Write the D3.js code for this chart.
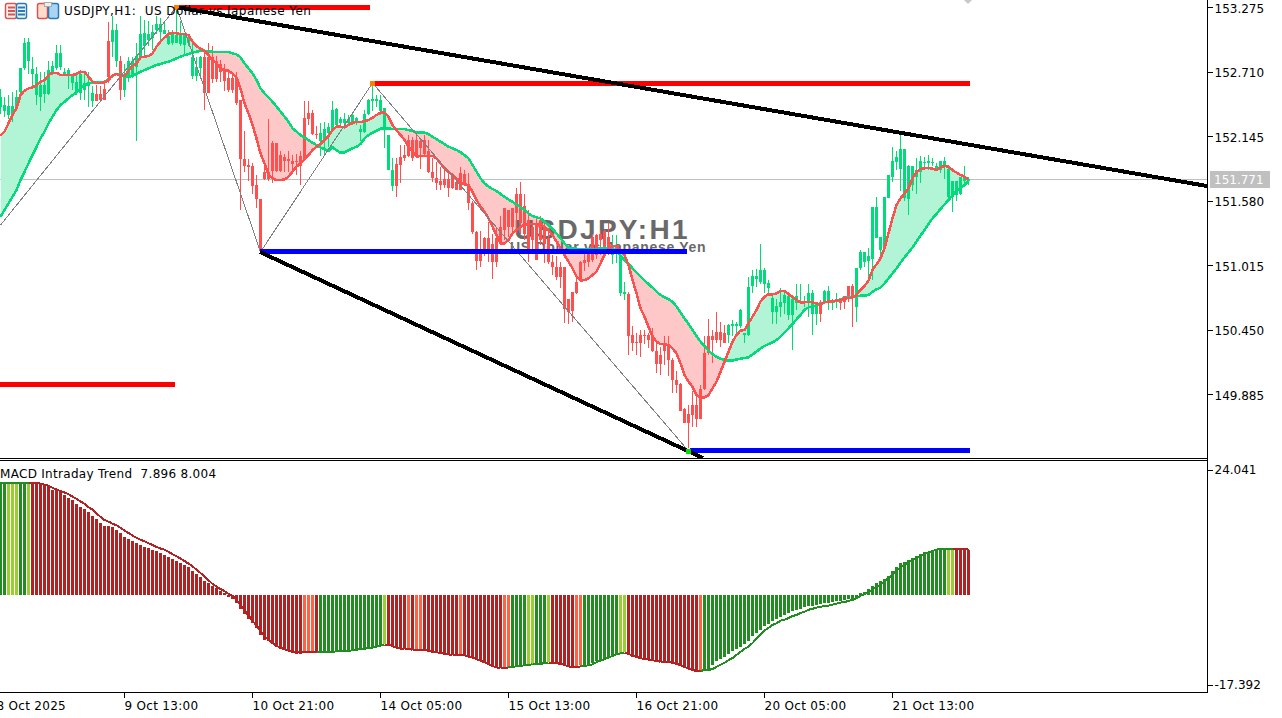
<!DOCTYPE html>
<html>
<head>
<meta charset="utf-8">
<script src="https://cdnjs.cloudflare.com/ajax/libs/d3/7.8.5/d3.min.js"></script>
<style>
html, body { margin: 0; padding: 0; background: #fff; overflow: hidden; }
svg { display: block; }
text { font-family: "DejaVu Sans", sans-serif; font-size: 12px; fill: #000; }
</style>
</head>
<body>
<svg id="chart" width="1282" height="718"></svg>
<script>
// one row per H1 bar: [high, body top, body bottom, low]
const candleRows = [
[152.56,152.49,152.40,152.34],[152.49,152.42,152.36,152.31],[152.50,152.41,152.33,152.29],[152.53,152.41,152.33,152.27],
[152.55,152.49,152.39,152.37],[152.74,152.74,152.53,152.46],[153.00,152.96,152.74,152.72],[153.00,152.97,152.80,152.69],
[152.84,152.73,152.69,152.58],[152.75,152.69,152.50,152.42],[152.71,152.59,152.49,152.36],[152.71,152.59,152.51,152.43],
[152.80,152.72,152.51,152.50],[152.80,152.76,152.71,152.68],[152.94,152.87,152.74,152.72],[152.94,152.87,152.75,152.72],
[152.74,152.71,152.68,152.68],[152.74,152.72,152.68,152.56],[152.69,152.69,152.61,152.55],[152.71,152.62,152.52,152.50],
[152.72,152.69,152.52,152.46],[152.71,152.61,152.55,152.46],[152.71,152.61,152.58,152.40],[152.58,152.52,152.45,152.40],
[152.59,152.51,152.45,152.45],[152.58,152.51,152.46,152.45],[152.62,152.56,152.46,152.46],[153.14,152.98,152.66,152.61],
[153.20,153.07,152.97,152.84],[153.13,153.07,152.80,152.75],[152.85,152.80,152.55,152.46],[152.78,152.67,152.55,152.49],
[152.84,152.80,152.66,152.62],[152.84,152.80,152.66,152.65],[152.96,152.85,152.75,152.10],[153.20,153.04,152.84,152.83],
[153.16,153.05,152.93,152.85],[153.15,153.04,152.99,152.93],[153.12,153.06,153.00,152.90],[153.20,153.13,153.07,153.04],
[153.18,153.13,153.06,152.99],[153.15,153.07,153.04,153.04],[153.07,153.02,152.95,152.94],[153.07,153.04,152.96,152.94],
[153.27,153.03,152.96,152.96],[153.15,153.03,152.95,152.93],[153.04,153.03,152.94,152.85],[153.04,153.01,152.96,152.93],
[152.97,152.84,152.67,152.64],[152.84,152.75,152.67,152.63],[152.85,152.84,152.74,152.65],[152.90,152.84,152.52,152.37],
[152.96,152.84,152.52,152.52],[152.93,152.84,152.64,152.61],[152.85,152.80,152.64,152.62],[152.81,152.78,152.71,152.62],
[152.78,152.72,152.63,152.54],[152.71,152.65,152.55,152.53],[152.71,152.65,152.55,152.52],[152.71,152.66,152.43,152.42],
[152.46,152.46,151.94,151.50],[152.19,151.94,151.88,151.83],[151.94,151.89,151.87,151.75],[151.91,151.88,151.71,151.64],
[151.80,151.72,151.59,151.51],[151.59,151.59,151.15,151.15],[151.89,151.83,151.77,151.76],[152.29,151.83,151.77,151.75],
[152.10,152.08,151.84,151.73],[152.08,152.08,151.84,151.83],[152.01,151.98,151.84,151.83],[151.99,151.96,151.93,151.83],
[152.01,151.94,151.93,151.83],[151.98,151.93,151.90,151.82],[151.99,151.93,151.92,151.80],[152.01,151.97,151.88,151.72],
[152.45,152.30,151.94,151.94],[152.45,152.35,152.29,152.24],[152.37,152.35,152.16,152.15],[152.23,152.16,152.15,152.12],
[152.26,152.17,152.10,151.97],[152.27,152.21,152.10,151.99],[152.26,152.22,152.17,152.05],[152.45,152.37,152.21,152.21],
[152.39,152.38,152.24,152.23],[152.31,152.29,152.26,152.24],[152.35,152.29,152.26,152.22],[152.33,152.29,152.26,152.24],
[152.34,152.33,152.26,152.24],[152.31,152.30,152.26,152.24],[152.24,152.21,152.18,152.10],[152.37,152.34,152.18,152.17],
[152.47,152.46,152.34,152.33],[152.61,152.47,152.45,152.36],[152.50,152.47,152.45,152.40],[152.50,152.46,152.36,152.33],
[152.39,152.39,152.20,152.04],[152.15,152.15,151.85,151.85],[151.95,151.85,151.71,151.66],[151.95,151.90,151.71,151.61],
[152.07,151.96,151.89,151.73],[152.07,151.98,151.95,151.93],[152.15,152.11,151.97,151.96],[152.14,152.11,151.95,151.93],
[152.15,152.11,151.98,151.95],[152.12,152.10,152.04,151.86],[152.15,152.11,151.99,151.98],[152.11,152.01,151.83,151.82],
[151.95,151.83,151.78,151.74],[151.92,151.78,151.73,151.67],[151.87,151.75,151.72,151.67],[151.86,151.77,151.72,151.69],
[151.85,151.77,151.69,151.61],[151.82,151.80,151.69,151.68],[151.77,151.74,151.67,151.67],[151.87,151.82,151.67,151.67],
[151.85,151.81,151.72,151.72],[151.82,151.72,151.56,151.50],[151.58,151.56,151.30,151.29],[151.31,151.30,151.05,150.97],
[151.31,151.12,151.05,151.00],[151.26,151.25,151.15,151.09],[151.39,151.25,151.15,151.04],[151.29,151.20,151.04,150.89],
[151.35,151.25,151.04,151.00],[151.44,151.35,151.20,151.20],[151.51,151.51,151.32,151.23],[151.50,151.50,151.35,151.26],
[151.51,151.51,151.35,151.28],[151.69,151.64,151.47,151.29],[151.74,151.64,151.38,151.29],[151.64,151.53,151.29,151.23],
[151.50,151.41,151.13,151.04],[151.41,151.35,151.23,151.15],[151.44,151.38,151.06,151.06],[151.44,151.41,151.23,151.19],
[151.41,151.35,151.20,151.03],[151.31,151.25,151.04,151.02],[151.10,151.04,151.00,150.93],[151.09,151.00,150.91,150.88],
[151.04,151.00,150.91,150.81],[151.00,151.00,150.63,150.51],[150.72,150.72,150.60,150.50],[150.78,150.78,150.61,150.52],
[150.91,150.87,150.77,150.76],[151.05,151.04,150.88,150.87],[151.15,151.06,151.03,150.96],[151.16,151.12,151.04,151.00],
[151.29,151.26,151.06,151.04],[151.29,151.28,151.10,151.07],[151.32,151.29,151.23,151.10],[151.32,151.31,151.16,151.13],
[151.38,151.26,151.15,151.10],[151.28,151.18,151.10,151.02],[151.28,151.18,151.15,151.03],[151.10,151.10,150.77,150.74],
[150.87,150.78,150.76,150.71],[150.78,150.76,150.39,150.23],[150.48,150.40,150.33,150.26],[150.42,150.34,150.33,150.23],
[150.45,150.40,150.33,150.21],[150.45,150.40,150.39,150.32],[150.42,150.40,150.36,150.29],[150.46,150.40,150.26,150.25],
[150.33,150.26,150.15,150.07],[150.30,150.23,150.15,150.05],[150.39,150.32,150.26,150.14],[150.39,150.32,150.18,150.04],
[150.20,150.18,150.01,149.89],[150.09,150.01,149.96,149.89],[149.98,149.97,149.74,149.74],[149.76,149.75,149.63,149.63],
[149.79,149.71,149.63,149.41],[149.91,149.79,149.70,149.60],[149.86,149.79,149.67,149.60],[149.96,149.93,149.67,149.67],
[150.39,150.24,149.93,149.92],[150.54,150.39,150.24,150.23],[150.45,150.39,150.36,150.16],[150.60,150.43,150.36,150.33],
[150.52,150.43,150.36,150.30],[150.49,150.42,150.33,150.33],[150.50,150.49,150.40,150.33],[150.53,150.50,150.48,150.39],
[150.52,150.50,150.48,150.40],[150.63,150.62,150.48,150.46],[150.42,150.42,150.40,150.33],[150.91,150.82,150.40,150.39],
[150.97,150.92,150.83,150.77],[150.98,150.92,150.89,150.82],[151.20,150.97,150.87,150.85],[150.99,150.97,150.85,150.77],
[150.88,150.86,150.81,150.75],[150.74,150.73,150.60,150.50],[150.72,150.66,150.60,150.50],[150.81,150.69,150.65,150.56],
[150.80,150.75,150.68,150.59],[150.77,150.74,150.58,150.53],[150.75,150.72,150.58,150.27],[150.85,150.74,150.68,150.62],
[150.85,150.69,150.68,150.67],[150.74,150.69,150.68,150.65],[150.85,150.77,150.68,150.56],[150.80,150.77,150.59,150.40],
[150.68,150.66,150.59,150.49],[150.71,150.68,150.59,150.52],[150.80,150.79,150.69,150.68],[150.83,150.79,150.70,150.62],
[150.72,150.71,150.69,150.62],[150.77,150.71,150.69,150.64],[150.73,150.71,150.68,150.62],[150.74,150.74,150.69,150.63],
[150.83,150.83,150.74,150.69],[150.85,150.83,150.74,150.47],[150.99,150.99,150.65,150.52],[151.15,151.13,150.99,150.97],
[151.13,151.13,151.04,151.00],[151.16,151.09,151.05,150.88],[151.52,151.52,151.07,150.88],[151.61,151.52,151.25,151.25],
[151.26,151.26,151.15,151.07],[151.61,151.61,151.16,151.15],[151.80,151.80,151.60,151.60],[152.05,151.93,151.79,151.74],
[152.01,151.96,151.92,151.85],[152.15,152.03,151.86,151.66],[152.03,152.03,151.60,151.58],[151.89,151.88,151.59,151.45],
[151.88,151.88,151.72,151.66],[151.95,151.85,151.79,151.64],[151.97,151.93,151.83,151.73],[151.96,151.92,151.91,151.85],
[151.98,151.93,151.91,151.85],[151.95,151.92,151.91,151.88],[151.91,151.88,151.86,151.85],[151.93,151.93,151.85,151.82],
[151.96,151.93,151.88,151.77],[151.88,151.86,151.61,151.58],[151.75,151.75,151.61,151.48],[151.75,151.75,151.63,151.58],
[151.79,151.79,151.64,151.63],[151.88,151.78,151.75,151.70],[151.79,151.77,151.75,151.72]
];

// red moving average, one value per bar
const fastMa = [
152.148,152.183,152.256,152.329,152.387,152.504,152.542,152.562,152.571,152.591,152.621,152.635,152.679,152.699,152.699,152.679,152.679,152.679,152.679,152.688,
152.708,152.705,152.664,152.621,152.609,152.609,152.615,152.635,152.676,152.688,152.673,152.670,152.717,152.758,152.781,152.834,152.840,152.845,152.869,152.927,
152.971,153.006,153.038,153.050,153.044,153.038,153.038,153.029,152.971,152.933,152.910,152.889,152.854,152.810,152.781,152.737,152.723,152.717,152.694,152.659,
152.562,152.431,152.343,152.241,152.124,151.993,151.905,151.803,151.774,151.759,151.759,151.765,151.788,151.832,151.876,151.905,151.940,151.978,152.022,152.051,
152.075,152.110,152.145,
152.197,152.227,152.227,152.221,152.241,152.262,152.267,152.267,152.276,152.285,152.305,152.329,152.349,152.349,152.314,152.241,152.197,152.154,152.110,152.051,
152.008,151.964,151.970,151.970,151.970,151.970,151.949,151.905,151.862,151.832,151.803,151.774,151.745,151.721,151.716,151.657,151.584,151.526,151.482,151.424,
151.351,151.278,151.205,151.205,151.234,151.292,151.321,151.351,151.365,151.371,151.374,151.371,151.365,151.351,151.321,151.278,151.219,151.161,151.102,151.044,
150.986,150.913,150.878,150.883,150.898,150.927,150.956,151.029,151.102,151.155,151.181,151.184,
151.132,151.102,151.015,150.883,150.767,150.635,150.562,150.475,150.387,150.343,150.323,150.320,150.314,150.285,150.241,150.153,150.051,149.993,149.949,149.876,
149.853,149.853,149.876,149.934,149.993,150.080,150.168,150.256,150.343,150.402,150.440,150.445,150.504,150.562,150.621,150.694,150.737,150.758,150.758,150.767,
150.787,150.787,150.761,150.737,150.708,150.688,150.688,150.691,150.688,150.679,150.670,150.688,150.697,150.697,150.705,150.708,150.720,150.726,150.729,150.752,
150.796,150.831,150.878,150.971,151.021,151.073,151.161,151.292,151.424,151.540,151.599,151.643,151.686,151.774,151.832,151.856,151.862,151.865,151.859,151.847,
151.870,151.882,151.876,151.847,151.824,151.803,151.789,151.765
];

// green moving average, one value per bar
const slowMa = [
151.438,151.496,151.555,151.613,151.672,151.759,151.832,151.905,151.978,152.051,152.124,152.183,152.256,152.314,152.372,152.416,152.445,152.475,152.504,152.524,
152.562,152.591,152.606,152.612,152.612,152.612,152.621,152.641,152.670,152.688,152.688,152.670,152.659,152.679,152.688,152.708,152.723,152.737,152.752,152.767,
152.775,152.787,152.796,152.810,152.825,152.840,152.854,152.863,152.875,152.883,152.892,152.892,152.889,152.883,152.883,152.883,152.883,152.880,152.869,152.860,
152.834,152.781,152.737,152.694,152.635,152.562,152.518,152.483,152.445,152.402,152.358,152.314,152.270,152.212,152.183,152.153,152.133,152.110,152.086,152.066,
152.045,152.028,152.016,
152.046,152.022,151.999,151.999,152.022,152.037,152.051,152.075,152.124,152.154,152.174,152.192,152.209,152.212,152.212,152.206,152.206,152.206,152.206,152.197,
152.189,152.177,152.174,152.174,152.162,152.139,152.116,152.095,152.075,152.051,152.037,152.022,152.002,151.978,151.949,151.891,151.832,151.774,151.730,151.701,
151.681,151.663,151.637,151.613,151.590,151.567,151.546,151.520,151.497,151.467,151.444,151.432,151.424,151.394,151.365,151.330,151.292,151.248,151.205,151.170,
151.158,151.158,151.155,151.155,151.155,151.155,151.155,151.161,151.167,151.161,151.146,151.146,
151.094,151.059,151.024,150.986,150.948,150.913,150.878,150.848,150.816,150.781,150.752,150.732,150.714,150.694,150.650,150.597,150.548,150.498,150.445,150.393,
150.343,150.305,150.264,150.235,150.212,150.194,150.183,150.177,150.177,150.188,150.194,150.200,150.206,150.232,150.256,150.285,150.305,150.323,150.337,150.358,
150.387,150.425,150.460,150.498,150.539,150.577,150.621,150.644,150.650,150.664,150.679,150.688,150.691,150.694,150.699,150.714,150.726,150.732,150.737,150.743,
150.746,150.746,150.752,150.781,150.802,150.816,150.854,150.898,150.942,150.986,151.035,151.082,151.126,151.170,151.219,151.272,151.321,151.374,151.424,151.462,
151.505,151.546,151.584,151.625,151.663,151.686,151.716,151.751
];

const macdHist = [
21.8,21.8,21.8,21.8,21.8,21.8,21.8,21.8,21.8,21.4,21.4,21.1,20.7,20.2,20.1,19.8,19.3,18.7,18.2,17.5,17.0,16.6,15.9,15.2,14.6,13.9,13.3,13.2,13.0,12.5,
11.9,11.1,10.7,10.3,10.0,9.5,9.2,9.0,8.7,8.5,8.0,7.7,7.3,6.9,6.5,6.1,5.8,5.3,4.6,4.0,3.4,2.6,2.2,1.7,1.3,0.8,0.3,-0.5,-0.8,-1.6,
-2.7,-3.7,-4.6,-5.5,-6.4,-7.8,-8.7,-9.0,-9.5,-10.0,-10.5,-10.6,-10.9,-11.2,-11.4,-11.4,-11.0,-11.0,-11.0,-11.0,-11.0,-11.0,-11.0,
-10.9,-10.9,-10.9,-10.9,-10.8,-10.7,-10.6,-10.5,-10.4,-10.3,-10.2,-10.0,-9.8,-9.5,-9.6,-10.0,-10.2,-10.4,-10.5,-10.5,-10.5,-10.7,-10.6,-10.6,-10.7,-11.0,-11.1,
-11.2,-11.4,-11.6,-11.6,-11.6,-11.6,-11.7,-11.9,-12.1,-12.5,-12.8,-13.0,-13.5,-13.8,-14.1,-14.2,-14.1,-14.1,-13.9,-13.8,-13.7,-13.6,-13.5,-13.4,-13.4,-13.3,-13.1,-13.0,
-13.0,-13.2,-13.3,-13.6,-13.8,-14.1,-13.9,-13.6,-13.7,-13.5,-13.2,-12.8,-12.5,-12.3,-12.0,-11.7,-11.4,-11.2,-11.1,-11.6,-11.9,-12.1,-12.2,-12.4,-12.5,-12.6,-12.8,
-12.8,-12.8,-13.0,-13.0,-13.4,-13.7,-13.9,-14.3,-14.6,-14.9,-14.6,-14.5,-14.3,-13.5,-12.8,-12.4,-11.9,-11.4,-10.9,-10.4,-10.0,-9.5,-8.9,-8.0,-7.4,-6.7,-6.1,-5.6,-5.1,-4.7,
-4.2,-3.9,-3.5,-3.2,-2.9,-2.7,-2.4,-2.2,-2.1,-1.9,-1.7,-1.6,-1.5,-1.4,-1.3,-1.2,-1.0,-0.9,-0.8,-0.6,
0.4,0.6,1.1,1.6,2.2,2.6,3.1,3.7,4.5,5.3,6.1,6.3,6.7,7.1,7.4,7.8,8.3,8.3,8.6,8.8,9.0,9.0,8.9,8.9,8.9,8.9,8.9,8.7
];

const macdSignal = [
21.6,21.6,21.6,21.6,21.6,21.6,21.6,21.6,21.6,21.6,21.4,21.2,21.0,20.6,20.3,20.0,19.7,19.4,18.9,18.5,18.0,17.5,16.9,16.4,15.7,15.0,14.4,14.1,13.7,13.4,
12.9,12.4,11.9,11.4,11.0,10.6,10.3,9.9,9.6,9.2,8.9,8.7,8.3,7.8,7.4,7.0,6.5,6.0,5.5,4.8,4.2,3.5,2.8,2.1,1.6,1.1,0.7,0.2,-0.2,-1.0,
-2.0,-3.0,-4.0,-5.0,-5.9,-7.0,-8.0,-8.7,-9.3,-9.8,-10.2,-10.5,-10.8,-11.0,-11.1,-11.1,-11.1,-11.1,-11.1,-11.1,-11.1,-11.1,-11.1,
-11.0,-10.9,-10.9,-10.9,-10.8,-10.7,-10.6,-10.5,-10.4,-10.3,-10.2,-10.0,-9.8,-9.6,-9.6,-9.9,-10.2,-10.4,-10.5,-10.5,-10.6,-10.6,-10.6,-10.6,-10.8,-11.0,-11.1,-11.2,
-11.4,-11.5,-11.6,-11.6,-11.6,-11.7,-11.9,-12.1,-12.4,-12.7,-13.0,-13.4,-13.7,-14.0,-14.1,-14.1,-14.0,-13.9,-13.8,-13.7,-13.6,-13.5,-13.4,-13.4,-13.3,-13.2,-13.1,-13.1,
-13.2,-13.3,-13.5,-13.8,-14.0,-14.0,-13.8,-13.7,-13.6,-13.4,-13.0,-12.7,-12.4,-12.1,-11.8,-11.5,-11.3,-11.2,-11.4,-11.7,-12.0,-12.2,-12.4,-12.5,-12.6,-12.8,
-12.9,-12.9,-13.0,-13.1,-13.3,-13.6,-13.9,-14.2,-14.5,-14.7,-14.7,
-14.5,-14.5,-14.3,-13.9,-13.5,-13.1,-12.6,-12.2,-11.6,-11.0,-10.4,-10.0,-9.3,-8.5,-7.7,-6.9,-6.4,-5.8,-5.5,-5.0,-4.8,-4.5,-4.1,-3.9,-3.5,-3.3,-2.9,-2.7,-2.5,-2.3,
-2.2,-2.1,-1.9,-1.7,-1.5,-1.4,-1.2,-1.0,-0.7,-0.2,0.1,0.5,1.0,1.5,1.9,2.6,3.2,3.9,4.6,5.3,5.8,6.3,6.7,7.1,7.5,7.9,8.2,8.4,8.7,8.8,8.9,8.9,8.9,8.9,8.9,8.9,8.7
];

// runs of histogram colour along the bars: [colour name, bar count]
const histRuns = [
['green',2],['lime',3],['green',2],['lime',1],['red',68],['tomato',3],['red',1],['green',16],['lime',1],['red',5],['tomato',1],['red',1],
['tomato',2],['red',9],['tomato',1],['red',10],['tomato',2],['green',4],['lime',2],['green',3],['lime',1],['red',6],['tomato',2],['green',9],
['lime',2],['red',18],['tomato',1],['green',61],['lime',2],['red',4]
];
const histPalette = {green: '#228b22', lime: '#9acd32', red: '#b22222', tomato: '#ff6347'};

const priceTicks = [153.275, 152.710, 152.145, 151.580, 151.015, 150.450, 149.885];
const macdTicks = [24.041, -17.392];
const timeTickBars = [-1, 31, 63, 95, 127, 159, 191, 223];
const timeTickLabels = ['8 Oct 2025', '9 Oct 13:00', '10 Oct 21:00', '14 Oct 05:00', '15 Oct 13:00', '16 Oct 21:00', '20 Oct 05:00', '21 Oct 13:00'];

const lastPrice = 151.771;
// analysis objects, anchored on bar index and price
const zigzagBars = [0, 44, 65, 93, 172];
const zigzagPrices = [151.365, 153.275, 151.129, 152.609, 149.386];
const trendLines = [
    {bars: [44, 301.75], prices: [153.275, 151.707]},
    {bars: [65, 175.75], prices: [151.129, 149.324]}
];
const levelLines = [
    {from: -1, to: 43.75, price: 149.964, color: '#ff0000'},
    {from: 44, to: 92.5, price: 153.275, color: '#ff0000'},
    {from: 93.5, to: 242.5, price: 152.609, color: '#ff0000'},
    {from: 65, to: 171.75, price: 151.129, color: '#0000ff'},
    {from: 172.5, to: 242.5, price: 149.386, color: '#0000ff'}
];

const GREEN = '#00dc78', RED = '#ff5050';
const svg = d3.select('#chart');

const xBar = d3.scaleLinear().domain([0, 100]).range([0, 400]);
const yPrice = d3.scaleLinear().domain([153.275, 149.885]).range([7, 394]);
const yMacd = d3.scaleLinear().domain([24.041, -17.392]).range([470, 685]);

const bars = d3.range(candleRows.length);
const histColors = d3.merge(histRuns.map(function(run){ return d3.range(run[1]).map(function(){ return run[0]; }); }));

const defs = svg.append('defs');
defs.append('clipPath').attr('id', 'pricePane').append('rect')
    .attr('x', 0).attr('y', 0).attr('width', 1207).attr('height', 458);

// regions above and below the slow line, used to split the fill by trend
const slowY = function(i){ return yPrice(slowMa[i]); };
const midX = function(i){ return xBar(i) + 0.5; };
defs.append('clipPath').attr('id', 'aboveSlow').append('path')
    .attr('d', d3.area().x(midX).y0(0).y1(slowY)(bars));
defs.append('clipPath').attr('id', 'belowSlow').append('path')
    .attr('d', d3.area().x(midX).y0(slowY).y1(458)(bars));

const pricePane = svg.append('g').attr('clip-path', 'url(#pricePane)');

pricePane.append('line')
    .attr('x1', 0).attr('x2', 1207)
    .attr('y1', Math.round(yPrice(lastPrice)) + 0.5).attr('y2', Math.round(yPrice(lastPrice)) + 0.5)
    .attr('stroke', '#c0c0c0');

// ribbon between the two averages
const ribbon = d3.area().x(midX).y0(slowY).y1(function(i){ return yPrice(fastMa[i]); });
pricePane.append('path').attr('d', ribbon(bars)).attr('fill', '#b2f5d6').attr('clip-path', 'url(#aboveSlow)');
pricePane.append('path').attr('d', ribbon(bars)).attr('fill', '#ffc8c8').attr('clip-path', 'url(#belowSlow)');

// chart watermark
pricePane.append('text').attr('x', 514).attr('y', 239)
    .style('font-family', '"Liberation Sans", sans-serif').style('font-weight', 'bold')
    .style('font-size', '28px').style('letter-spacing', '2.3px').style('fill', '#696969')
    .text('USDJPY:H1');
pricePane.append('text').attr('x', 510).attr('y', 252)
    .style('font-family', '"Liberation Sans", sans-serif').style('font-weight', 'bold')
    .style('font-size', '14px').style('letter-spacing', '0.7px').style('fill', '#696969')
    .text('US Dollar vs Japanese Yen');

// candles take their colour from the ribbon, not from open and close
const candleColor = function(i){ return fastMa[i] >= slowMa[i] ? GREEN : RED; };
const candles = pricePane.append('g').attr('shape-rendering', 'crispEdges');
candles.selectAll('rect.wick').data(bars).enter().append('rect')
    .attr('class', 'wick')
    .attr('x', function(i){ return xBar(i); })
    .attr('width', 1)
    .attr('y', function(i){ return yPrice(candleRows[i][0]); })
    .attr('height', function(i){ return Math.max(1, yPrice(candleRows[i][3]) - yPrice(candleRows[i][0])); })
    .attr('fill', candleColor);
candles.selectAll('rect.body').data(bars).enter().append('rect')
    .attr('class', 'body')
    .attr('x', function(i){ return xBar(i) - 1; })
    .attr('width', 3)
    .attr('y', function(i){ return yPrice(candleRows[i][1]); })
    .attr('height', function(i){ return Math.max(1, yPrice(candleRows[i][2]) - yPrice(candleRows[i][1])); })
    .attr('fill', candleColor);

const maLine = function(values){
    return d3.line().x(midX).y(function(i){ return yPrice(values[i]); })(bars);
};
pricePane.append('path').attr('d', maLine(slowMa)).attr('fill', 'none').attr('stroke', GREEN)
    .attr('stroke-width', 2.5).attr('shape-rendering', 'crispEdges');
pricePane.append('path').attr('d', maLine(fastMa)).attr('fill', 'none').attr('stroke', RED)
    .attr('stroke-width', 2.5).attr('shape-rendering', 'crispEdges');

// chart title, the objects below run over it
svg.append('text').attr('x', 64).attr('y', 15)
    .style('letter-spacing', '0.43px').style('white-space', 'pre')
    .text('USDJPY,H1:  US Dollar vs Japanese Yen');

const zigzag = d3.line()
    .x(function(d){ return xBar(d) + 0.5; })
    .y(function(d, i){ return yPrice(zigzagPrices[i]); });
pricePane.append('path').attr('d', zigzag(zigzagBars))
    .attr('fill', 'none').attr('stroke', '#808080').attr('stroke-width', 1)
    .attr('shape-rendering', 'crispEdges');

pricePane.selectAll('line.level').data(levelLines).enter().append('line')
    .attr('class', 'level')
    .attr('x1', function(d){ return xBar(d.from); })
    .attr('x2', function(d){ return xBar(d.to); })
    .attr('y1', function(d){ return yPrice(d.price); })
    .attr('y2', function(d){ return yPrice(d.price); })
    .attr('stroke', function(d){ return d.color; })
    .attr('stroke-width', 5)
    .attr('shape-rendering', 'crispEdges');

pricePane.selectAll('line.trend').data(trendLines).enter().append('line')
    .attr('class', 'trend')
    .attr('x1', function(d){ return xBar(d.bars[0]); })
    .attr('x2', function(d){ return xBar(d.bars[1]); })
    .attr('y1', function(d){ return yPrice(d.prices[0]); })
    .attr('y2', function(d){ return yPrice(d.prices[1]); })
    .attr('stroke', '#000')
    .attr('stroke-width', 4)
    .attr('shape-rendering', 'crispEdges');

// pivot markers at the zigzag ends
pricePane.selectAll('rect.pivot').data([1, 3, 4]).enter().append('rect')
    .attr('class', 'pivot')
    .attr('x', function(k){ return xBar(zigzagBars[k]) - 2; })
    .attr('y', function(k){ return yPrice(zigzagPrices[k]) - 2; })
    .attr('width', 5).attr('height', 5)
    .attr('fill', function(k){ return k === 4 ? '#00e000' : '#ff8000'; });

// small price marker at the top edge
svg.append('path').attr('d', d3.line()([[964, 0], [972, 0], [968, 4]]) + 'Z').attr('fill', '#c8c8c8');

// MACD pane
const histZero = yMacd(0);
svg.append('g').attr('shape-rendering', 'crispEdges')
    .selectAll('rect').data(bars).enter().append('rect')
    .attr('x', function(i){ return xBar(i) - 1; })
    .attr('width', 3)
    .attr('y', function(i){ return Math.min(yMacd(macdHist[i]), histZero); })
    .attr('height', function(i){ return Math.abs(yMacd(macdHist[i]) - histZero); })
    .attr('fill', function(i){ return histPalette[histColors[i]]; });

svg.append('g').selectAll('path').data(d3.pairs(bars)).enter().append('path')
    .attr('d', function(p){
        return d3.line().x(midX).y(function(i){ return yMacd(macdSignal[i]); })(p);
    })
    .attr('fill', 'none')
    .attr('stroke-width', 2)
    .attr('shape-rendering', 'crispEdges')
    .attr('stroke', function(p){
        let c = histColors[p[1]];
        return (c === 'red' || c === 'tomato') ? histPalette.red : histPalette.green;
    });

svg.append('text').attr('x', 0).attr('y', 478)
    .style('letter-spacing', '0.3px').style('white-space', 'pre')
    .text('MACD Intraday Trend  7.896 8.004');

// axes and pane frames
const priceAxis = d3.axisRight(yPrice).tickValues(priceTicks).tickSize(5).tickPadding(2)
    .tickFormat(function(d){ return d.toFixed(3); });
const macdAxis = d3.axisRight(yMacd).tickValues(macdTicks).tickSize(5).tickPadding(2)
    .tickFormat(function(d){ return d.toFixed(3); });
const timeAxis = d3.axisBottom(xBar).tickValues(timeTickBars).tickSize(5).tickPadding(4)
    .tickFormat(function(d, i){ return timeTickLabels[i]; });

const setAxes = function(selection){
    selection.attr('shape-rendering', 'crispEdges');
    selection.select('.domain').remove();
    selection.selectAll('text').style('font-size', '12px').attr('fill', '#000');
};
svg.append('g').attr('transform', 'translate(1207.5,0)').call(priceAxis).call(setAxes)
    .selectAll('text').attr('dy', '0.42em');
svg.append('g').attr('transform', 'translate(1207.5,0)').call(macdAxis).call(setAxes)
    .selectAll('text').attr('dy', '0.3em');
svg.append('g').attr('transform', 'translate(0,692.5)').call(timeAxis).call(setAxes)
    .selectAll('text').attr('text-anchor', 'start').style('letter-spacing', '0.3px');

const frame = svg.append('g').attr('stroke', '#000').attr('shape-rendering', 'crispEdges');
frame.append('line').attr('x1', 1207.5).attr('x2', 1207.5).attr('y1', 0).attr('y2', 692);
frame.append('line').attr('x1', 0).attr('x2', 1208).attr('y1', 458.5).attr('y2', 458.5);
frame.append('line').attr('x1', 0).attr('x2', 1208).attr('y1', 460.5).attr('y2', 460.5);
frame.append('line').attr('x1', 0).attr('x2', 1208).attr('y1', 692.5).attr('y2', 692.5);

// last price tag
svg.append('rect').attr('x', 1210).attr('y', 171).attr('width', 60).attr('height', 17).attr('fill', '#c0c0c0');
svg.append('text').attr('x', 1214).attr('y', 184).style('fill', '#fff').text(lastPrice.toFixed(3));

// toolbar icons next to the title
const icons = svg.append('g');
icons.append('rect').attr('x', 5.5).attr('y', 3.5).attr('width', 11).attr('height', 15).attr('rx', 2).attr('fill', '#fdf2ef').attr('stroke', '#d9534f').attr('stroke-width', 1.5);
icons.append('rect').attr('x', 16.5).attr('y', 3.5).attr('width', 10).attr('height', 15).attr('rx', 2).attr('fill', '#eef6fc').attr('stroke', '#2a7ab8').attr('stroke-width', 1.5);
icons.selectAll('rect.redbar').data([0, 1, 2]).enter().append('rect').attr('class', 'redbar')
    .attr('x', 8).attr('y', function(d){ return 6.5 + d * 3.5; }).attr('width', 7).attr('height', 2).attr('fill', '#d9534f');
icons.selectAll('rect.bluebar').data([0, 1, 2]).enter().append('rect').attr('class', 'bluebar')
    .attr('x', 18).attr('y', function(d){ return 6.5 + d * 3.5; }).attr('width', 7).attr('height', 2).attr('fill', '#2a7ab8');
icons.append('rect').attr('x', 37.5).attr('y', 3.5).attr('width', 10).attr('height', 15).attr('rx', 2).attr('fill', '#fddccc').attr('stroke', '#d9534f').attr('stroke-width', 1.5);
icons.append('rect').attr('x', 48.5).attr('y', 3.5).attr('width', 10).attr('height', 15).attr('rx', 2).attr('fill', '#a9d4f2').attr('stroke', '#2a7ab8').attr('stroke-width', 1.5);
icons.append('rect').attr('x', 44.5).attr('y', 2.5).attr('width', 7).attr('height', 4).attr('fill', '#eee').attr('stroke', '#aaa');
</script>
</body>
</html>
